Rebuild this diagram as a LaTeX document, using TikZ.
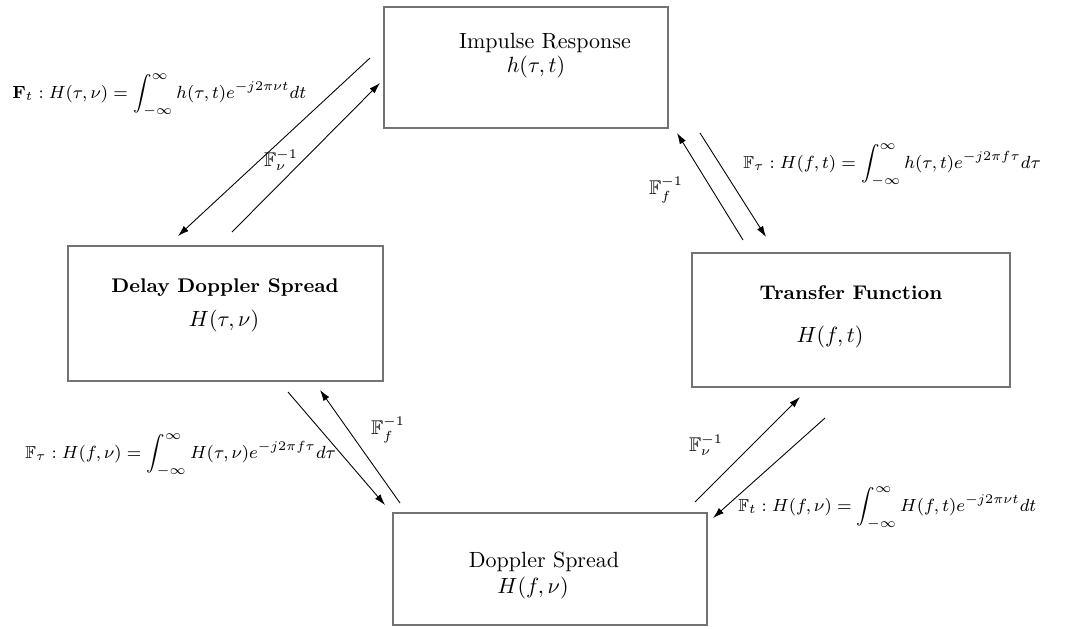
\documentclass[tikz,border=0pt]{standalone}
\usepackage{amsmath,amssymb}
\usetikzlibrary{arrows.meta}
\tikzset{
  box/.style={draw=black!55,line width=0.7pt,inner sep=0pt},
  arr/.style={-{Latex[length=5pt,width=3.2pt]},line width=0.4pt},
  eqn/.style={anchor=west,inner sep=0pt,font=\fontsize{7.9}{10}\selectfont},
  inv/.style={inner sep=0pt,font=\small},
  ttl/.style={inner sep=0pt}
}
\begin{document}
\begin{tikzpicture}[x=0.4545pt,y=-0.4545pt]
\useasboundingbox (0,0) rectangle (1065,628);
% the four domains
\node[box,minimum width=129.1pt,minimum height=55pt] (ir) at (526,67.5) {};
\node[box,minimum width=143.2pt,minimum height=61.4pt] (dds) at (225.5,313.5) {};
\node[box,minimum width=144.5pt,minimum height=60.9pt] (tf) at (851,320) {};
\node[box,minimum width=142.7pt,minimum height=51pt] (ds) at (550,569) {};
\node[ttl] (irname) at (545,43) {Impulse Response};
\node[ttl] (irfun) at (536,67) {$h(\tau,t)$};
\node[ttl,font=\small] (ddsname) at (225,288) {\textbf{Delay Doppler Spread}};
\node[ttl] (ddsfun) at (224,321) {$H(\tau,\nu)$};
\node[ttl,font=\small] (tfname) at (851,293) {\textbf{Transfer Function}};
\node[ttl] (tffun) at (830,337) {$H(f,t)$};
\node[ttl] (dsname) at (544,562) {Doppler Spread};
\node[ttl] (dsfun) at (533,588) {$H(f,\nu)$};
% arrow ends
\coordinate (a1) at (370,58);  \coordinate (a2) at (178,236);
\coordinate (b1) at (232,232); \coordinate (b2) at (380,83);
\coordinate (c1) at (743,240); \coordinate (c2) at (677,133);
\coordinate (d1) at (700,133); \coordinate (d2) at (766,237);
\coordinate (e1) at (288,392); \coordinate (e2) at (385,505);
\coordinate (f1) at (400,503); \coordinate (f2) at (320,390);
\coordinate (g1) at (695,502); \coordinate (g2) at (800,397);
\coordinate (h1) at (825,418); \coordinate (h2) at (713,518);
\draw[arr] (a1) -- (a2); \draw[arr] (b1) -- (b2);
\draw[arr] (c1) -- (c2); \draw[arr] (d1) -- (d2);
\draw[arr] (e1) -- (e2); \draw[arr] (f1) -- (f2);
\draw[arr] (g1) -- (g2); \draw[arr] (h1) -- (h2);
% transforms
\node[eqn] (eqtl) at (12,95) {$\mathbf{F}_t : H(\tau,\nu) = \displaystyle\int_{-\infty}^{\infty} h(\tau,t)e^{-j2\pi\nu t}dt$};
\node[eqn] (eqtr) at (743,165) {$\mathbb{F}_\tau : H(f,t) = \displaystyle\int_{-\infty}^{\infty} h(\tau,t)e^{-j2\pi f\tau}d\tau$};
\node[eqn] (eqbl) at (25,455) {$\mathbb{F}_\tau : H(f,\nu) = \displaystyle\int_{-\infty}^{\infty} H(\tau,\nu)e^{-j2\pi f\tau}d\tau$};
\node[eqn] (eqbr) at (738,508) {$\mathbb{F}_t : H(f,\nu) = \displaystyle\int_{-\infty}^{\infty} H(f,t)e^{-j2\pi\nu t}dt$};
\node[inv] (invtl) at (281,160) {$\mathbb{F}_\nu^{-1}$};
\node[inv] (invtr) at (666,190) {$\mathbb{F}_f^{-1}$};
\node[inv] (invbl) at (388,430) {$\mathbb{F}_f^{-1}$};
\node[inv] (invbr) at (706,445) {$\mathbb{F}_\nu^{-1}$};
\end{tikzpicture}
\end{document}
